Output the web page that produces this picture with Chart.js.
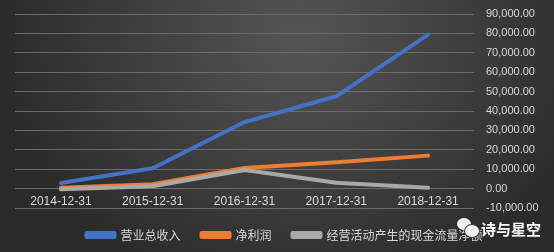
<!DOCTYPE html>
<html>
<head>
<meta charset="utf-8">
<script src="https://cdn.jsdelivr.net/npm/chart.js@4"></script>
<style>
    html, body { margin: 0; padding: 0; }
    #wrap {
        position: relative;
        width: 554px;
        height: 252px;
        background: radial-gradient(300px 260px at 300px 40px, #555555 0%, #2b2b2b 100%);
        overflow: hidden;
    }
    #mark {
        position: absolute;
        left: 457px;
        top: 217px;
        height: 22px;
        display: flex;
        align-items: center;
        color: #ffffff;
        font: bold 15px "Noto Sans CJK SC", sans-serif;
    }
    .bub { position: absolute; background: #f2f2f2; border-radius: 50%; }
</style>
</head>
<body>
<div id="wrap">
    <canvas id="myChart" width="554" height="252"></canvas>
    <div id="mark">
        <div style="position:relative;width:24px;height:22px;">
            <div class="bub" style="left:0;top:1px;width:14px;height:12px;"></div>
            <div class="bub" style="left:7px;top:7px;width:14px;height:12px;border:1px solid #3a3a3a;"></div>
        </div>
        <span>诗与星空</span>
    </div>
</div>
<script>
// categories and series
const categories = ['2014-12-31', '2015-12-31', '2016-12-31', '2017-12-31', '2018-12-31'];
const revenue = [2900, 10500, 34300, 47600, 79400];     // 营业总收入
const netProfit = [500, 2200, 10600, 13600, 17000];     // 净利润
const cashFlow = [-300, 1200, 9600, 3000, 400];         // 经营活动产生的现金流量净额
const seriesNames = ['营业总收入', '净利润', '经营活动产生的现金流量净额'];
const yMin = -10000, yMax = 90000, yStep = 10000;

const textColor = '#d9d9d9';
const gridColor = '#6b6b6b';

function lineSet(label, values, color, order) {
    return {
        label: label,
        data: values,
        borderColor: color,
        backgroundColor: color,
        borderWidth: 4,
        borderCapStyle: 'round',
        borderJoinStyle: 'round',
        pointRadius: 0,
        tension: 0,
        order: order
    };
}

const ctx = document.getElementById('myChart').getContext('2d');
var myChart = new Chart(ctx, {
    type: 'line',
    data: {
        labels: categories,
        datasets: [
            lineSet(seriesNames[0], revenue, '#4472c4', 2),
            lineSet(seriesNames[1], netProfit, '#ed7d31', 1),
            lineSet(seriesNames[2], cashFlow, '#a8a8a8', 0)
        ]
    },
    options: {
        responsive: false,
        animation: false,
        layout: { padding: { left: 15, top: 14, right: 0, bottom: 1 } },
        plugins: {
            tooltip: { enabled: false },
            legend: {
                position: 'bottom',
                labels: {
                    color: textColor,
                    font: { family: '"Noto Sans CJK SC", sans-serif', size: 12 },
                    boxWidth: 28,
                    boxHeight: 4,
                    padding: 21,
                    sort: (a, b) => a.datasetIndex - b.datasetIndex
                }
            }
        },
        scales: {
            x: {
                type: 'category',
                offset: true,
                position: { y: 0 },   // category labels sit just under the zero line
                grid: { display: false, drawTicks: false },
                border: { display: false },
                ticks: {
                    color: textColor,
                    padding: 6,
                    maxRotation: 0,
                    font: { family: '"Liberation Sans", Arial, sans-serif', size: 12 }
                }
            },
            y: {
                position: 'right',
                min: yMin,
                max: yMax,
                afterFit: function(scale) {
                    scale.width = 80;
                    // tick padding otherwise pushes the plot top down
                    scale.paddingTop = 7;
                    scale.paddingBottom = 7;
                },
                grid: { color: gridColor, lineWidth: 1, drawTicks: false },
                border: { display: false },
                ticks: {
                    stepSize: yStep,
                    color: textColor,
                    padding: 12,
                    font: { family: '"Liberation Sans", Arial, sans-serif', size: 11 },
                    callback: function(value) {
                        return value.toLocaleString('en-US', { minimumFractionDigits: 2, maximumFractionDigits: 2 });
                    }
                }
            }
        }
    }
});
</script>
</body>
</html>
